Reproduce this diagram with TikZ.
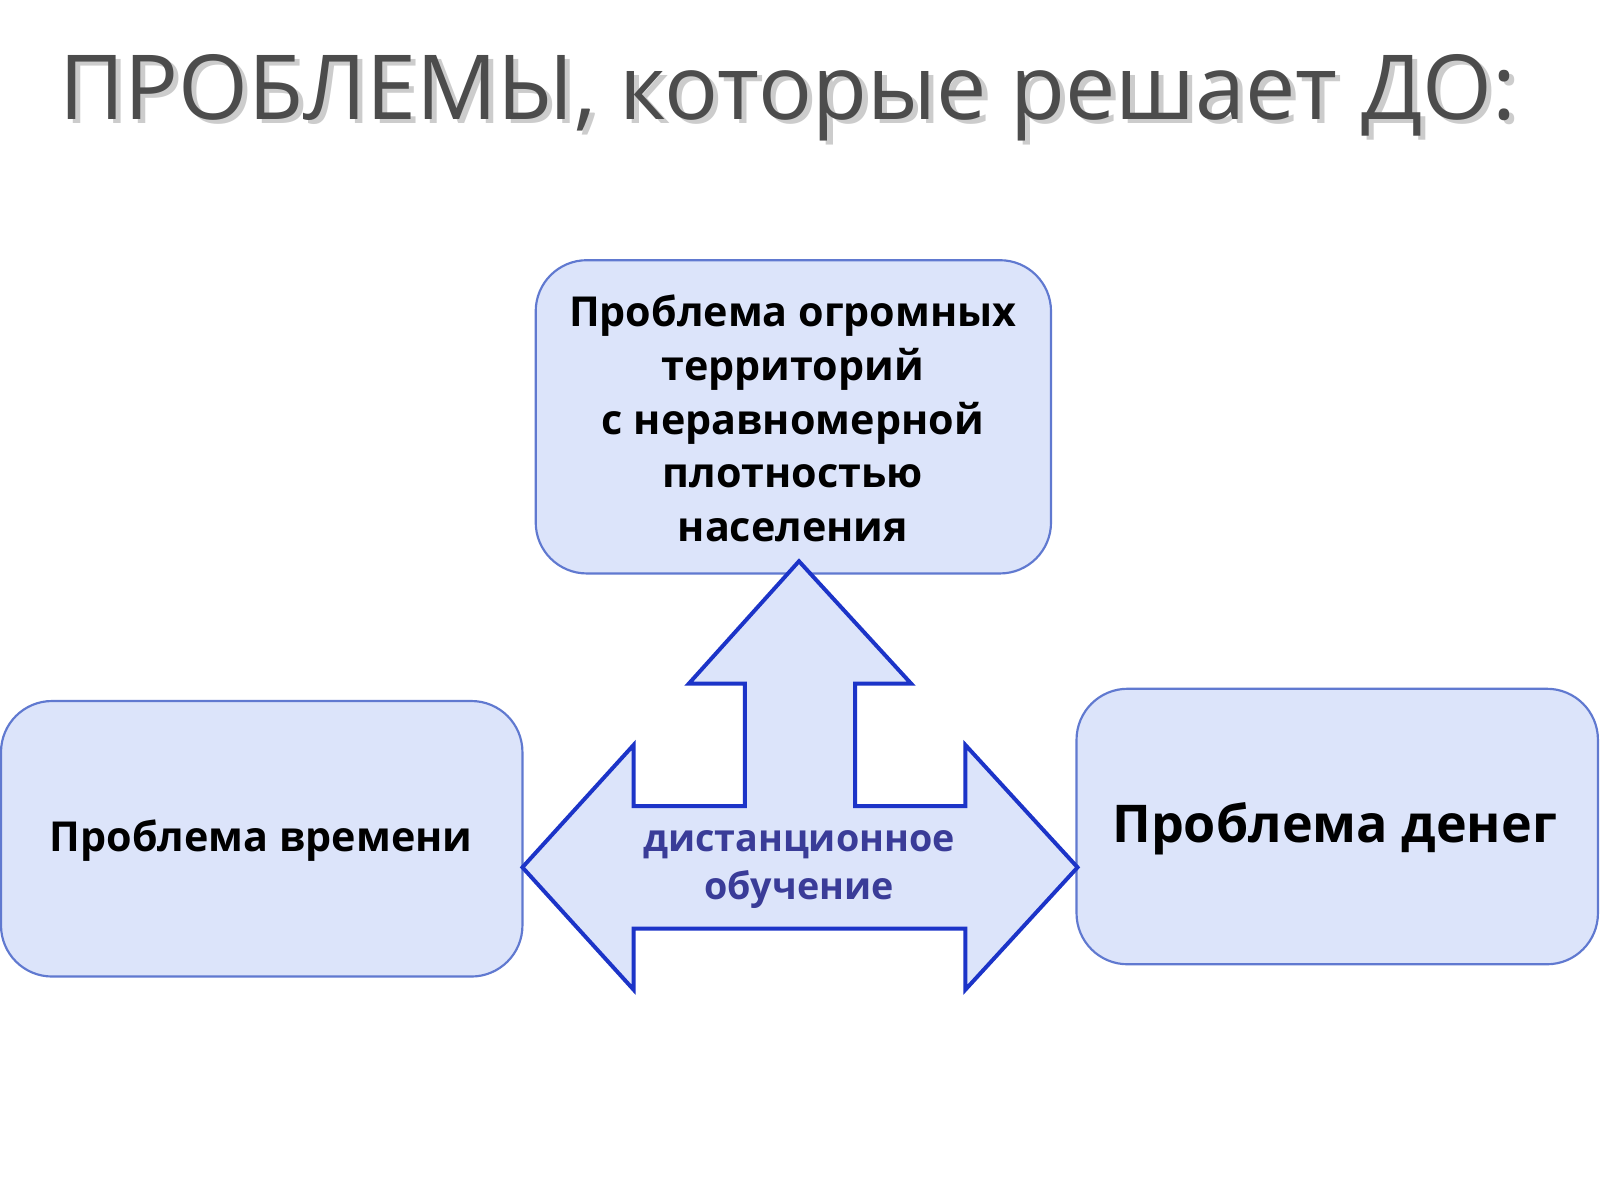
\documentclass[tikz,border=0pt]{standalone}
\usepackage{fontspec}
\setmainfont{Open Sans}
\definecolor{boxfill}{HTML}{DCE4FA}
\definecolor{boxline}{HTML}{6079D0}
\definecolor{arrline}{HTML}{1C34C8}
\definecolor{dtext}{HTML}{3A3C98}
\begin{document}
\begin{tikzpicture}[x=0.01cm,y=-0.01cm,
  box/.style={draw=boxline,fill=boxfill,rounded corners=0.5cm,line width=0.6pt},
  btext/.style={font=\bfseries\fontsize{11.5}{15}\selectfont,align=center,text=black}]
\useasboundingbox[fill=white] (0,0) rectangle (1568,1176);
\node[font=\fontsize{25}{30}\selectfont,text=black!20] (shadow) at (777,100) {ПРОБЛЕМЫ, которые решает ДО:};
\node[font=\fontsize{25}{30}\selectfont,text=black!70] (title) at (772,96) {ПРОБЛЕМЫ, которые решает ДО:};
\draw[box] (525,255) rectangle (1030,562);
\node[btext] (top) at (777,410) {Проблема огромных\\территорий\\с неравномерной\\плотностью\\населения};
\draw[box] (1,687) rectangle (512,957);
\node[btext] (left) at (256,824) {Проблема времени};
\draw[box] (1055,675) rectangle (1566,945);
\node[btext,font=\bfseries\fontsize{14.5}{18}\selectfont] (right) at (1308,812) {Проблема денег};
\draw[draw=arrline,fill=boxfill,line width=1.1pt]
 (783,550) -- (893,670) -- (838,670) -- (838,790) -- (946,790) -- (946,730) -- (1056,850)
 -- (946,970) -- (946,910) -- (621,910) -- (621,970) -- (512,850) -- (621,730) -- (621,790)
 -- (730,790) -- (730,670) -- (675,670) -- cycle;
\node[btext,text=dtext,font=\bfseries\fontsize{10.5}{13.5}\selectfont] (center) at (783,852) {дистанционное\\обучение};
\end{tikzpicture}
\end{document}
